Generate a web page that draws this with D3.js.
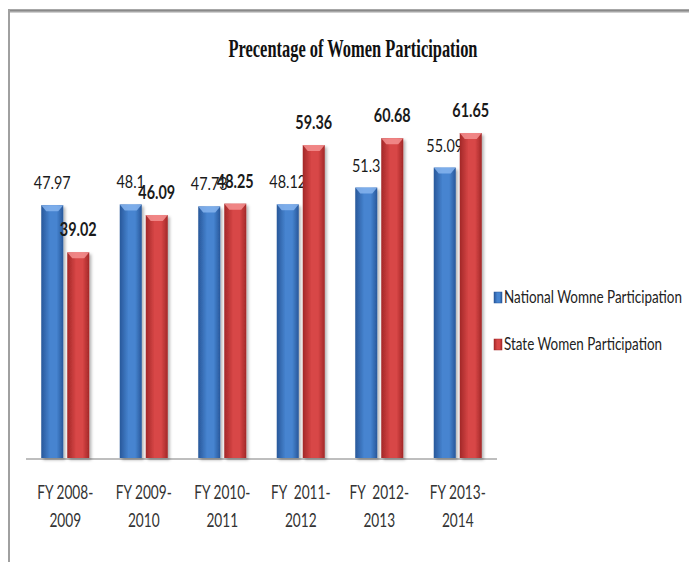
<!DOCTYPE html>
<html>
<head>
<meta charset="utf-8">
<script src="https://cdn.jsdelivr.net/npm/d3@7"></script>
<style>
  body { margin: 0; background: #fff; }
  svg { display: block; }
  text { white-space: pre; }
</style>
</head>
<body>
<svg id="chart"></svg>
<script>
let width = 689
let height = 562

// data
let categories = ["FY 2008-|2009", "FY 2009-|2010", "FY 2010-|2011", "FY  2011-|2012", "FY  2012-|2013", "FY 2013-|2014"]
let series = ["National Womne Participation", "State Women Participation"]
let nationalValues = [47.97, 48.1, 47.73, 48.12, 51.3, 55.09]
let stateValues = [39.02, 46.09, 48.25, 59.36, 60.68, 61.65]
let nationalLabels = ["47.97", "48.1", "47.73", "48.12", "51.3", "55.09"]
let stateLabels = ["39.02", "46.09", "48.25", "59.36", "60.68", "61.65"]

let colors = {
  "National Womne Participation": { dark: "#28579a", mid: "#4684d0", top: "#86b4ee" },
  "State Women Participation": { dark: "#a22828", mid: "#d84646", top: "#f49090" }
}

let svg = d3.select("#chart")
            .attr("width", width)
            .attr("height", height)

let defs = svg.append("defs")

series.forEach((s, i) => {
  let g = defs.append("linearGradient")
              .attr("id", "grad" + i)
              .attr("x1", "0").attr("x2", "1").attr("y1", "0").attr("y2", "0")
  g.append("stop").attr("offset", "0%").attr("stop-color", colors[s].dark)
  g.append("stop").attr("offset", "40%").attr("stop-color", colors[s].mid)
  g.append("stop").attr("offset", "70%").attr("stop-color", colors[s].mid)
  g.append("stop").attr("offset", "100%").attr("stop-color", colors[s].dark)
})

let shadow = defs.append("filter").attr("id", "shadow")
                 .attr("x", "-30%").attr("y", "-10%").attr("width", "160%").attr("height", "130%")
shadow.append("feDropShadow")
      .attr("dx", 2).attr("dy", 2).attr("stdDeviation", 1.5)
      .attr("flood-color", "#000").attr("flood-opacity", 0.3)

// frame
svg.append("line")
   .attr("x1", 8).attr("x2", width).attr("y1", 10.5).attr("y2", 10.5)
   .attr("stroke", "#8a8a8a").attr("stroke-width", 2.5)
svg.append("line")
   .attr("x1", 10).attr("x2", width).attr("y1", 12.5).attr("y2", 12.5)
   .attr("stroke", "#d0d0d0").attr("stroke-width", 1)
svg.append("line")
   .attr("x1", 9).attr("x2", 9).attr("y1", 9).attr("y2", height)
   .attr("stroke", "#a0a0a0").attr("stroke-width", 2)

// squeeze text horizontally like the narrow font in the original
let squeeze = (sel, k) => {
  sel.each(function() {
    let w = this.getComputedTextLength()
    d3.select(this).attr("textLength", w * k).attr("lengthAdjust", "spacingAndGlyphs")
  })
}

// title
svg.append("text")
   .text("Precentage of Women Participation")
   .attr("x", 353)
   .attr("y", 57)
   .attr("text-anchor", "middle")
   .style("font-family", "'Liberation Serif', serif")
   .style("font-weight", "bold")
   .style("font-size", "25px")
   .style("fill", "#111")
   .attr("textLength", 249)
   .attr("lengthAdjust", "spacingAndGlyphs")

let xScale = d3.scaleBand()
               .domain(categories)
               .range([26, 497])

let xInner = d3.scaleBand()
               .domain(series)
               .range([xScale.bandwidth() / 2 - 24, xScale.bandwidth() / 2 + 24])
               .paddingInner(0.1538)

let yScale = d3.scaleLinear()
               .domain([0, 70])
               .range([458, 89])

let rows = categories.map((c, i) => ({
  cat: c,
  vals: [
    { s: series[0], v: nationalValues[i], label: nationalLabels[i], idx: 0 },
    { s: series[1], v: stateValues[i], label: stateLabels[i], idx: 1 }
  ]
}))

// baseline
svg.append("line")
   .attr("x1", 26).attr("x2", 497)
   .attr("y1", yScale(0) + 1).attr("y2", yScale(0) + 1)
   .attr("stroke", "#a8a8a8").attr("stroke-width", 1.5)

let groups = svg.selectAll(".grp")
                .data(rows)
                .enter()
                .append("g")
                .attr("class", "grp")
                .attr("transform", (d) => "translate(" + xScale(d.cat) + ",0)")

let bars = groups.selectAll(".bar")
                 .data((d) => d.vals)
                 .enter()
                 .append("g")
                 .attr("class", "bar")

bars.append("rect")
    .attr("x", (d) => xInner(d.s))
    .attr("y", (d) => yScale(d.v))
    .attr("width", xInner.bandwidth())
    .attr("height", (d) => yScale(0) - yScale(d.v))
    .attr("fill", (d) => "url(#grad" + d.idx + ")")
    .attr("filter", "url(#shadow)")

// bevel on top of each bar
bars.append("path")
    .attr("d", (d) => {
      let x0 = xInner(d.s)
      let w = xInner.bandwidth()
      let y0 = yScale(d.v)
      return "M" + x0 + "," + y0 + " L" + (x0 + w) + "," + y0 +
             " L" + (x0 + w - 5) + "," + (y0 + 6) + " L" + (x0 + 5) + "," + (y0 + 6) + "Z"
    })
    .attr("fill", (d) => colors[d.s].top)
    .attr("opacity", 0.85)

let valueLabels = bars.append("text")
    .text((d) => d.label)
    .attr("x", (d) => xInner(d.s) + xInner.bandwidth() / 2)
    .attr("y", (d) => yScale(d.v) - 16)
    .attr("text-anchor", "middle")
    .style("font-family", "Lato, sans-serif")
    .style("font-size", "18px")
    .style("font-weight", (d) => d.idx === 1 ? "bold" : "normal")
    .style("fill", "#1a1a1a")
squeeze(valueLabels, 0.8)

// category labels, two lines
let catText = groups.append("text")
    .attr("text-anchor", "middle")
    .style("font-family", "Lato, sans-serif")
    .style("font-size", "19px")
    .style("fill", "#333")

catText.selectAll("tspan")
       .data((d) => d.cat.split("|"))
       .enter()
       .append("tspan")
       .attr("x", xScale.bandwidth() / 2)
       .attr("y", (d, i) => 499 + i * 28)
       .text((d) => d)
catText.selectAll("tspan").each(function() {
  let w = this.getComputedTextLength()
  d3.select(this).attr("textLength", w * 0.72).attr("lengthAdjust", "spacingAndGlyphs")
})

// legend
let legend = svg.selectAll(".leg")
                .data(series)
                .enter()
                .append("g")
                .attr("class", "leg")
                .attr("transform", (d, i) => "translate(494," + (292 + i * 47) + ")")

legend.append("rect")
      .attr("width", 8)
      .attr("height", 11)
      .attr("fill", (d, i) => "url(#grad" + i + ")")
      .attr("stroke", (d) => colors[d].dark)
      .attr("stroke-width", 0.5)

legend.append("text")
      .text((d) => d)
      .attr("x", 10)
      .attr("y", 11)
      .style("font-family", "Lato, sans-serif")
      .style("font-size", "17px")
      .style("fill", "#222")
      .attr("textLength", (d, i) => i === 0 ? 178 : 158)
      .attr("lengthAdjust", "spacingAndGlyphs")
</script>
</body>
</html>
